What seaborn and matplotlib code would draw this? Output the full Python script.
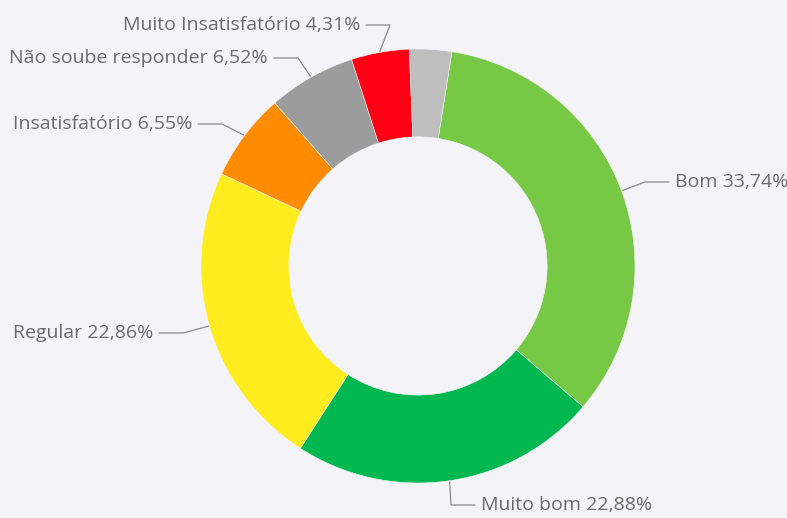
import numpy as np
import matplotlib
matplotlib.use("Agg")
import matplotlib.pyplot as plt
import seaborn as sns

# Data (clockwise order)
categories = ["Bom", "Muito bom", "Regular", "Insatisfatório",
              "Não soube responder", "Muito Insatisfatório", ""]
percentages = [33.74, 22.88, 22.86, 6.55, 6.52, 4.31, 3.14]
slice_colors = ["#77C945", "#00B84F", "#FFEC1E", "#FF8C00",
                "#9C9C9C", "#FF0015", "#BEBEBE"]

BG = "#F4F4F8"
W, H = 787, 518
CX, CY, R = 418, 266, 217  # donut centre / radius in pixels


def px(x, y):
    """pixel coords -> data coords (radius 1 = outer ring)"""
    return (x - CX) / R, (CY - y) / R


# elbow point and side of text for each labelled slice (pixels)
label_layout = {
    "Bom": ((645, 182), "right"),
    "Muito bom": ((451, 505), "right"),
    "Regular": ((183, 333), "left"),
    "Insatisfatório": ((222, 124), "left"),
    "Não soube responder": ((298, 58), "left"),
    "Muito Insatisfatório": ((390, 25), "left"),
}

sns.set_theme(style="white")
plt.rcParams["font.family"] = ["Open Sans", "DejaVu Sans"]

fig = plt.figure(figsize=(W / 100, H / 100), dpi=100, facecolor=BG)
ax = fig.add_axes([0, 0, 1, 1])
ax.set_facecolor(BG)

start = 90 - 9
wedges, _ = ax.pie(percentages, colors=slice_colors, startangle=start,
                   counterclock=False, radius=1.0,
                   wedgeprops=dict(width=0.405, edgecolor=BG, linewidth=0.4))

x0, y0 = px(0, H)
x1, y1 = px(W, 0)
ax.set_xlim(x0, x1)
ax.set_ylim(y0, y1)
ax.set_aspect("equal")
ax.axis("off")

line_col = "#8A8A8A"
text_col = "#6B6B6B"
for w, name, pct in zip(wedges, categories, percentages):
    if not name:
        continue
    mid = np.deg2rad((w.theta1 + w.theta2) / 2)
    ax_pt = (1.005 * np.cos(mid), 1.005 * np.sin(mid))
    (ex, ey), side = label_layout[name]
    elbow = px(ex, ey)
    seg = 24 / R
    if side == "right":
        end = (elbow[0] + seg, elbow[1])
        tx, ha = end[0] + 6 / R, "left"
    else:
        end = (elbow[0] - seg, elbow[1])
        tx, ha = end[0] - 6 / R, "right"
    ax.plot([ax_pt[0], elbow[0], end[0]], [ax_pt[1], elbow[1], end[1]],
            color=line_col, lw=0.9, solid_joinstyle="miter")
    label = f"{name} {pct:.2f}%".replace(".", ",")
    ax.text(tx, end[1], label, ha=ha, va="center", fontsize=14,
            color=text_col)

fig.savefig("out.png", dpi=100, facecolor=BG)
